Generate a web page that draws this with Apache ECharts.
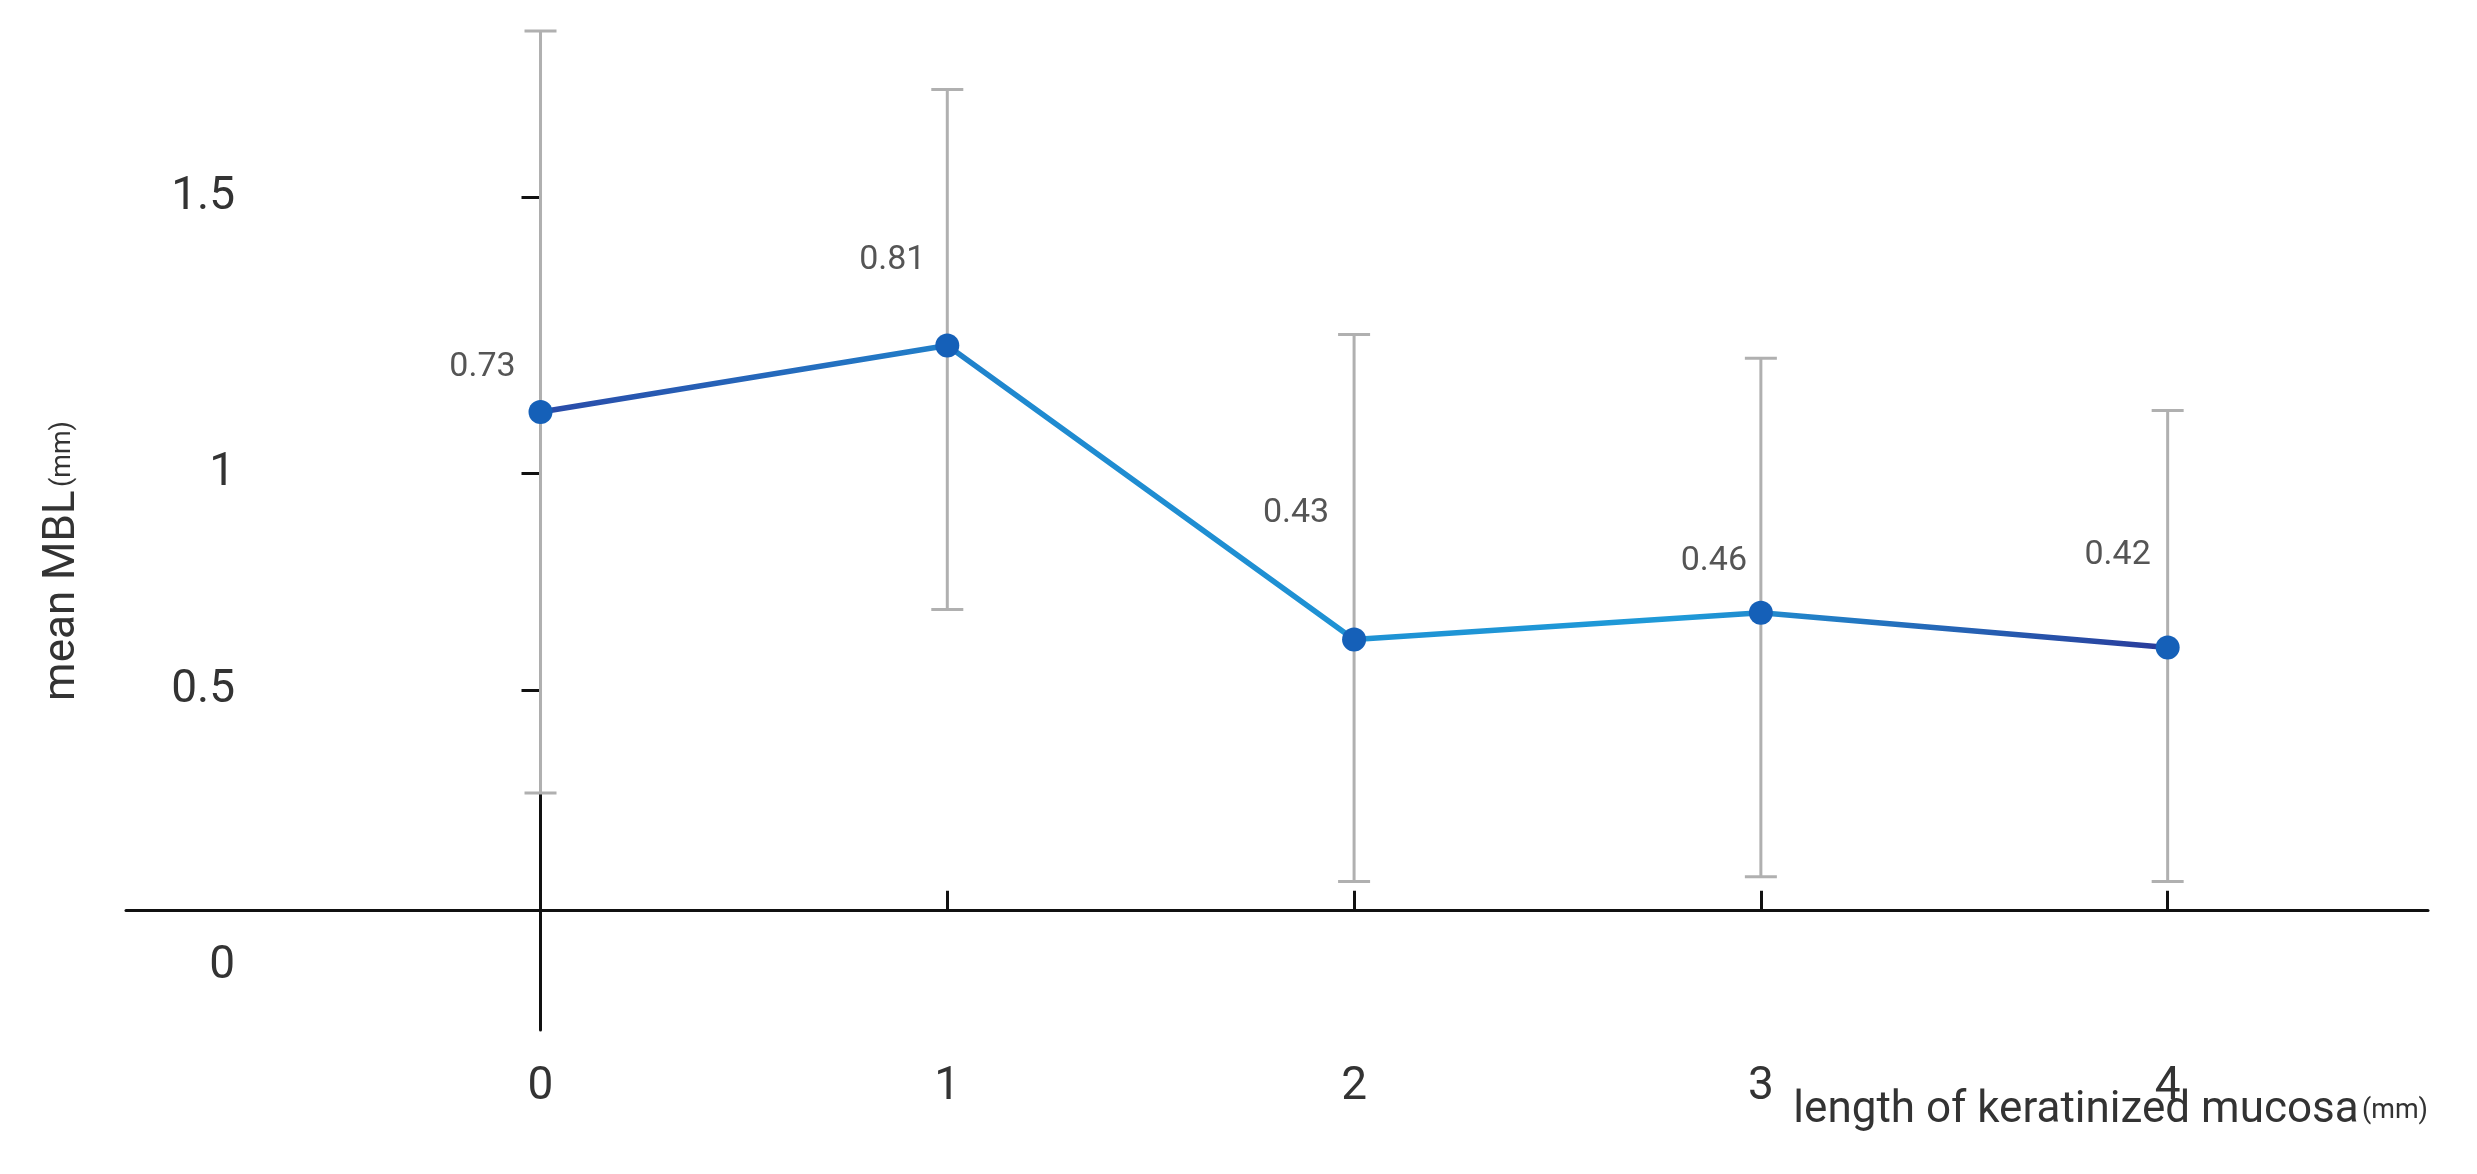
<!DOCTYPE html>
<html><head><meta charset="utf-8">
<script src="https://cdn.jsdelivr.net/npm/echarts@6/dist/echarts.min.js"></script>
<style>html,body{margin:0;background:#fff}#c{width:2477px;height:1174px}</style>
</head><body><div id="c"></div>
<script>
// categories (length of keratinized mucosa, mm)
const categories = [0, 1, 2, 3, 4];
// displayed mean MBL labels
const meanLabels = ['0.73', '0.81', '0.43', '0.46', '0.42'];
// plotted positions of means (in the chart's own drawn y scale)
const plotted = [315, 357, 171, 188, 166];
// error bar ends (same drawn y scale)
const errLow = [74, 190, 18, 21, 18];
const errHigh = [556, 519, 364, 349, 316];
// y tick positions and labels (the source axis is drawn non-linearly)
const yTickPos = [-36, 139, 276, 451];
const yTickLabels = ['0', '0.5', '1', '1.5'];

// label placement relative to each point (style, not data)
const labelOffsets = [[-58, -44], [-55, -85], [-58, -126], [-47, -51], [-50, -92]];

const chart = echarts.init(document.getElementById('c'));
const font = 'Roboto, "Noto Sans", sans-serif';
chart.setOption({
  animation: false,
  grid: { left: 126, right: 49, top: 197, bottom: 144 },
  xAxis: {
    type: 'value', min: -1.019, max: 4.64,
    axisLine: { onZero: true, lineStyle: { color: '#111', width: 3 } },
    axisTick: { inside: true, length: 19, customValues: categories, lineStyle: { color: '#111', width: 3 } },
    axisLabel: { customValues: categories, margin: 34, fontSize: 46, color: '#333', fontFamily: font },
    splitLine: { show: false }
  },
  yAxis: {
    type: 'value', min: -76, max: 451, offset: -137,
    axisLine: { show: true, lineStyle: { color: '#111', width: 3 } },
    axisTick: { show: true, length: 19, customValues: [139, 276, 451], lineStyle: { color: '#111', width: 3 } },
    axisLabel: {
      customValues: yTickPos, margin: 28, fontSize: 46, color: '#333', fontFamily: font,
      formatter: v => yTickLabels[yTickPos.indexOf(v)] ?? ''
    },
    splitLine: { show: false }
  },
  series: [
    {
      type: 'custom', clip: false, z: 1,
      data: categories.map((c, i) => [c, errLow[i], errHigh[i]]),
      renderItem: (params, api) => {
        const lo = api.coord([api.value(0), api.value(1)]);
        const hi = api.coord([api.value(0), api.value(2)]);
        const w = 16;
        const st = { stroke: '#b0b0b0', lineWidth: 3 };
        return { type: 'group', children: [
          { type: 'line', shape: { x1: lo[0], y1: lo[1], x2: hi[0], y2: hi[1] }, style: st },
          { type: 'line', shape: { x1: lo[0] - w, y1: lo[1], x2: lo[0] + w, y2: lo[1] }, style: st },
          { type: 'line', shape: { x1: hi[0] - w, y1: hi[1], x2: hi[0] + w, y2: hi[1] }, style: st }
        ]};
      }
    },
    {
      type: 'line', z: 3,
      data: categories.map((c, i) => ({
        value: [c, plotted[i]],
        label: { offset: labelOffsets[i] }
      })),
      symbol: 'circle', symbolSize: 24,
      itemStyle: { color: '#1560b8' },
      lineStyle: { width: 5.5, color: {
        type: 'linear', x: 0, y: 0, x2: 1, y2: 0,
        colorStops: [{ offset: 0, color: '#2a4aa8' }, { offset: 0.3, color: '#1f8ad0' },
                     { offset: 0.7, color: '#1f9ad8' }, { offset: 1, color: '#2a3a9a' }] } },
      label: {
        show: true, position: 'inside', fontSize: 34, color: '#555', fontFamily: font,
        formatter: p => meanLabels[p.dataIndex]
      }
    }
  ],
  graphic: [
    { type: 'text', x: 63, y: 561, rotation: Math.PI / 2, style: {
      text: '{a|mean MBL} {b|(mm)}', textAlign: 'center', textVerticalAlign: 'middle',
      rich: { a: { fontSize: 44, fill: '#333', fontFamily: font }, b: { fontSize: 27, fill: '#333', fontFamily: font } } } },
    { type: 'text', x: 2428, y: 1111, style: {
      text: '{a|length of keratinized mucosa} {b|(mm)}', textAlign: 'right', textVerticalAlign: 'middle',
      rich: { a: { fontSize: 44, fill: '#333', fontFamily: font }, b: { fontSize: 27, fill: '#333', fontFamily: font } } } }
  ]
});
</script></body></html>
